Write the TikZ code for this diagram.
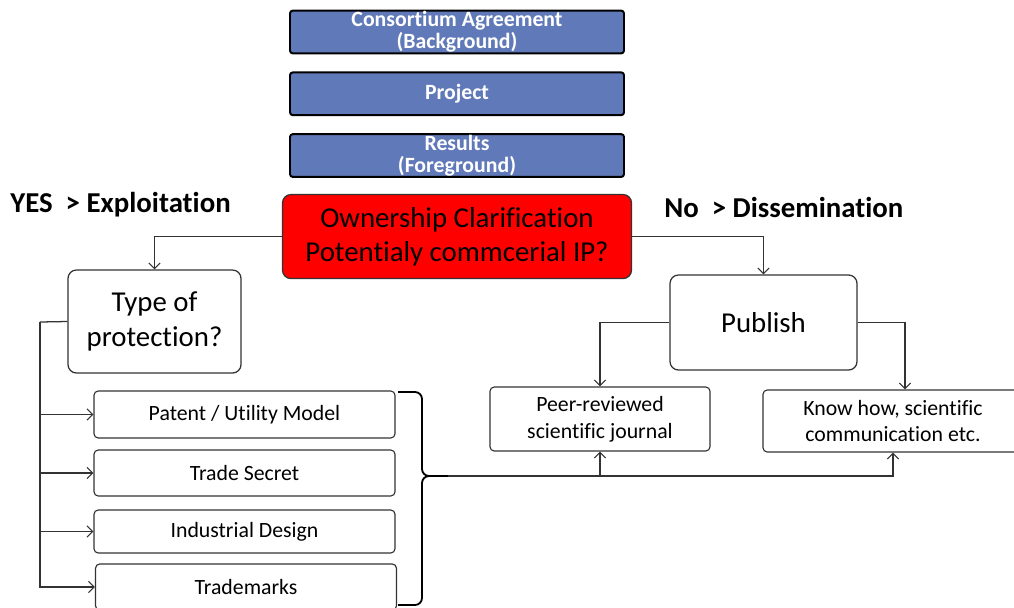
\documentclass[tikz,border=0pt]{standalone}
\usepackage{fontspec}
\setmainfont{Carlito}[Ligatures=CommonOff]
\usetikzlibrary{arrows.meta,calc,positioning}
\definecolor{topblue}{HTML}{6079B8}
\definecolor{boxline}{HTML}{333333}
\tikzset{
        topbox/.style = {draw=black, line width=1.4pt, fill=topblue,
            rounded corners=2pt, text=white, align=center, inner sep=0pt,
            minimum width=8.35cm, minimum height=1.07cm,
            font=\bfseries\fontsize{15.5}{15.5}\selectfont},
        redbox/.style = {draw=boxline, line width=0.9pt, fill=red,
            rounded corners=6pt, align=center, inner sep=0pt,
            font=\fontsize{20.5}{24}\selectfont},
        roundbox/.style = {draw=boxline, line width=0.9pt, fill=white,
            rounded corners=6pt, align=center, inner sep=0pt,
            font=\fontsize{20.5}{24.8}\selectfont},
        smallbox/.style = {draw=boxline, line width=0.8pt, fill=white,
            rounded corners=3pt, align=center, inner sep=0pt,
            font=\fontsize{15.5}{19}\selectfont},
        branch/.style = {smallbox, minimum width=7.525cm},
        headline/.style = {anchor=west, inner sep=0pt,
            font=\bfseries\fontsize{20.5}{24}\selectfont},
        arrow/.style = {draw=boxline, line width=0.8pt,
            -{Straight Barb[length=4pt,width=8pt]}},
    }

\begin{document}
\begin{tikzpicture}
    \useasboundingbox (0,0) rectangle (25.35,-15.175);

    % top stack
    \node[topbox] (agree) at (11.425,-0.8) {Consortium Agreement\\(Background)};
    \node[topbox, below=0.425cm of agree] (project) {Project};
    \node[topbox, below=0.425cm of project] (results) {Results\\(Foreground)};

    \node[redbox, minimum width=8.725cm, minimum height=2.1cm,
          below=0.4cm of results] (owner)
          {Ownership Clarification\\Potentialy commcerial IP?};

    \node[headline] (yes) at (0.25,-5.125) {YES\ \ > Exploitation};
    \node[headline] (no) at (16.6,-5.175) {No\ \ > Dissemination};

    % exploitation side
    \node[roundbox, minimum width=4.325cm, minimum height=2.575cm]
          (type) at (3.8625,-8.0375) {Type of\\protection?};
    \node[branch, minimum height=1.175cm] (patent) at (6.1125,-10.3625)
          {Patent / Utility Model};
    \node[branch, minimum height=1.15cm] (secret) at (6.1125,-11.825)
          {Trade Secret};
    \node[branch, minimum height=1.075cm] (design) at (6.1125,-13.2875)
          {Industrial Design};
    \node[branch, minimum height=1.15cm] (marks) at (6.15,-14.675)
          {Trademarks};

    \coordinate (trunk) at (1.0,-8.05);
    \draw[draw=boxline, line width=0.9pt] (type.west) -- (trunk);
    \foreach \b in {patent,secret,design,marks}
        \draw[arrow] (trunk) |- (\b.west);

    % dissemination side
    \node[roundbox, minimum width=4.675cm, minimum height=2.375cm]
          (publish) at (19.0875,-8.0625) {Publish};
    \node[smallbox, minimum width=5.5cm, minimum height=1.6cm]
          (peer) at (15.0,-10.475) {Peer-reviewed\\scientific journal};
    \node[smallbox, minimum width=6.5cm, minimum height=1.55cm]
          (know) at (22.325,-10.525) {Know how, scientific\\communication etc.};

    \draw[arrow] (owner.west) -| (type.north);
    \draw[arrow] (owner.east) -| (publish.north);
    \draw[arrow] (publish.west) -| (peer.north);
    \draw[arrow] (publish.east) -| ([xshift=0.3cm]know.north);

    % brace over the protection types
    \coordinate (bt) at (9.95,-9.8);
    \coordinate (bb) at (9.95,-15.125);
    \coordinate (tip) at (11.2,-11.9);
    \draw[line width=1.3pt, rounded corners=5pt] (bt) -- ++(0.6,0) |- (tip);
    \draw[line width=1.3pt, rounded corners=5pt] (bb) -- ++(0.6,0) |- (tip);
    \draw[arrow] (tip) -| (peer.south);
    \draw[arrow] (tip) -| (know.south);
\end{tikzpicture}
\end{document}
